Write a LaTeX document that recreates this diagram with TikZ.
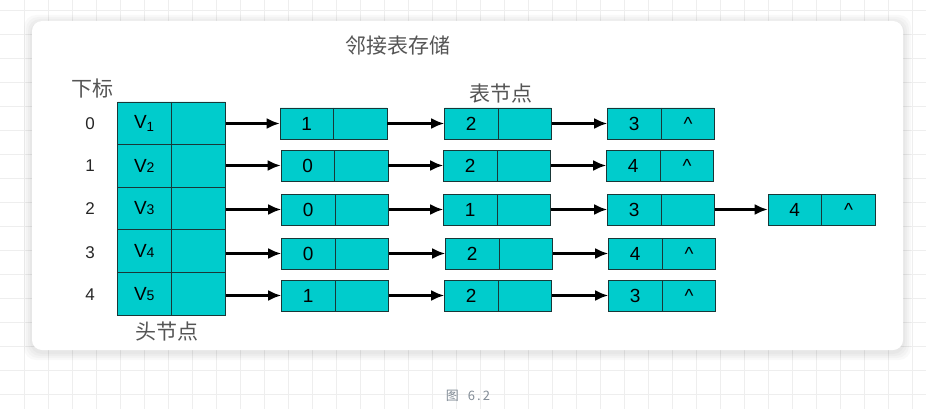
\documentclass[tikz,border=0pt]{standalone}
\usepackage{fontspec}
\setmainfont{Liberation Sans}
\newfontfamily\cjk{Noto Sans CJK SC}
\usetikzlibrary{arrows.meta,shapes.multipart}
\definecolor{cellfill}{RGB}{0,204,204}
\definecolor{cellline}{RGB}{25,55,55}
\definecolor{labelgray}{RGB}{85,85,85}
\definecolor{gridgray}{RGB}{238,238,238}
\definecolor{capgray}{RGB}{130,140,150}
\newcommand{\pair}[3][53pt]{\makebox[#1]{#2}\nodepart{two}\makebox[#1]{#3}}
\newcommand{\vsub}[1]{V{\fontsize{14}{14}\selectfont #1}}

\begin{document}
\begin{tikzpicture}[x=1pt, y=-1pt,
    cell/.style={rectangle split, rectangle split horizontal, rectangle split parts=2,
        draw=cellline, fill=cellfill, inner xsep=0pt, inner ysep=0pt,
        minimum height=31pt, line width=0.9pt, font=\fontsize{19}{19}\selectfont},
    headcell/.style={cell, minimum height=42.6pt},
    link/.style={-{Latex[length=13pt, width=11pt]}, line width=2.2pt},
    cjklabel/.style={font=\cjk\fontsize{21}{21}\selectfont, text=labelgray},
    index/.style={font=\fontsize{17}{17}\selectfont, text=black!85}]

    \useasboundingbox (0,0) rectangle (926,409);

    % background grid and card
    \foreach \gx in {24,48,...,912} \draw[gridgray, line width=0.8pt] (\gx,0) -- (\gx,409);
    \foreach \gy in {10,34,...,394} \draw[gridgray, line width=0.8pt] (0,\gy) -- (926,\gy);
    \foreach \sh in {8,6,4,2}
        \fill[black, opacity=0.025, rounded corners=12pt] (32-\sh,21-\sh+2) rectangle (903+\sh,350+\sh+2);
    \fill[white, rounded corners=10pt] (32,21) rectangle (903,350);

    % titles
    \node[cjklabel] (title) at (398,46) {邻接表存储};
    \node[cjklabel] (sub) at (92,89) {下标};
    \node[cjklabel] (tab) at (501,94) {表节点};
    \node[cjklabel] (head) at (167,332) {头节点};

    % index column
    \node[index] (i0) at (90,124) {0};
    \node[index] (i1) at (90,166) {1};
    \node[index] (i2) at (90,209) {2};
    \node[index] (i3) at (90,253) {3};
    \node[index] (i4) at (90,295) {4};

    % head nodes
    \node[headcell] (h0) at (171.5,123.3) {\pair[53.5pt]{V\textsubscript{1}}{}};
    \node[headcell] (h1) at (171.5,165.9) {\pair[53.5pt]{\vsub{2}}{}};
    \node[headcell] (h2) at (171.5,208.5) {\pair[53.5pt]{\vsub{3}}{}};
    \node[headcell] (h3) at (171.5,251.1) {\pair[53.5pt]{\vsub{4}}{}};
    \node[headcell] (h4) at (171.5,293.7) {\pair[53.5pt]{\vsub{5}}{}};

    % table nodes
    \node[cell] (a0) at (333.5,123.5) {\pair{1}{}};
    \node[cell] (b0) at (498,123.5) {\pair{2}{}};
    \node[cell] (c0) at (661,123.5) {\pair{3}{\textasciicircum}};

    \node[cell] (a1) at (334.5,165.5) {\pair{0}{}};
    \node[cell] (b1) at (497,165.5) {\pair{2}{}};
    \node[cell] (c1) at (660,165.5) {\pair{4}{\textasciicircum}};

    \node[cell] (a2) at (335,209.5) {\pair{0}{}};
    \node[cell] (b2) at (497,209.5) {\pair{1}{}};
    \node[cell] (c2) at (661,209.5) {\pair{3}{}};
    \node[cell] (d2) at (821.5,209.5) {\pair{4}{\textasciicircum}};

    \node[cell] (a3) at (335,253.5) {\pair{0}{}};
    \node[cell] (b3) at (499,253.5) {\pair{2}{}};
    \node[cell] (c3) at (662,253.5) {\pair{4}{\textasciicircum}};

    \node[cell] (a4) at (335,295.5) {\pair{1}{}};
    \node[cell] (b4) at (498,295.5) {\pair{2}{}};
    \node[cell] (c4) at (662,295.5) {\pair{3}{\textasciicircum}};

    % links
    \draw[link] (h0.east |- a0) -- (a0.west);
    \draw[link] (a0.east) -- (b0.west);
    \draw[link] (b0.east) -- (c0.west);

    \draw[link] (h1.east |- a1) -- (a1.west);
    \draw[link] (a1.east) -- (b1.west);
    \draw[link] (b1.east) -- (c1.west);

    \draw[link] (h2.east |- a2) -- (a2.west);
    \draw[link] (a2.east) -- (b2.west);
    \draw[link] (b2.east) -- (c2.west);
    \draw[link] (c2.east) -- (d2.west);

    \draw[link] (h3.east |- a3) -- (a3.west);
    \draw[link] (a3.east) -- (b3.west);
    \draw[link] (b3.east) -- (c3.west);

    \draw[link] (h4.east |- a4) -- (a4.west);
    \draw[link] (a4.east) -- (b4.west);
    \draw[link] (b4.east) -- (c4.west);

    % caption
    \node[font=\cjk\fontsize{13}{13}\selectfont, text=capgray] (cap) at (468,396) {图\hspace{9pt}6\,.\,2};

\end{tikzpicture}
\end{document}
